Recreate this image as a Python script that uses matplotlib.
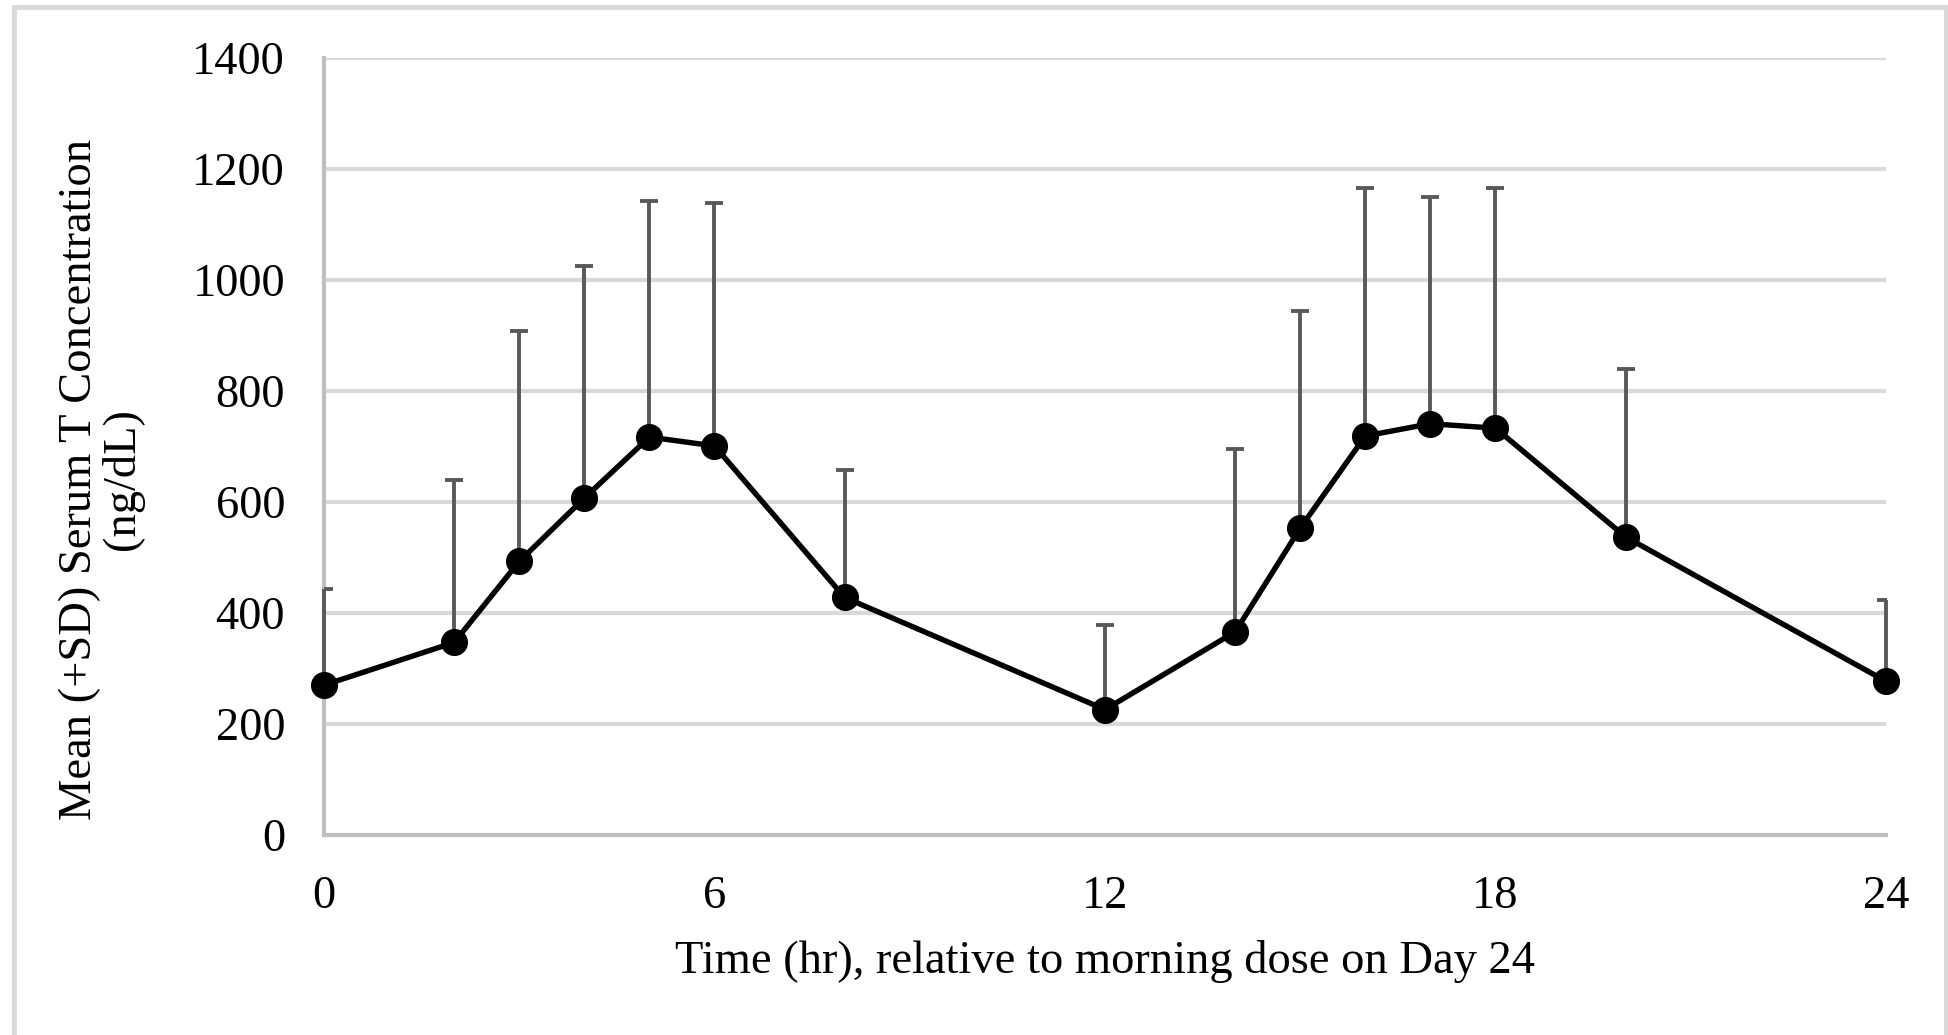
import matplotlib
matplotlib.use("Agg")
from matplotlib import pyplot as plt
from matplotlib.patches import Rectangle
import numpy as np

# values
hours = [0, 2, 3, 4, 5, 6, 8, 12, 14, 15, 16, 17, 18, 20, 24]
mean_t = [270, 347, 493, 607, 717, 701, 428, 226, 366, 553, 719, 741, 733, 537, 277]
sd_t = [173, 293, 416, 419, 425, 437, 230, 152, 329, 391, 447, 409, 433, 303, 147]
x_ticks = [0, 6, 12, 18, 24]
y_ticks = [0, 200, 400, 600, 800, 1000, 1200, 1400]

plt.rcParams['font.family'] = ['Liberation Serif', 'DejaVu Serif']
fs = 33.5

fig = plt.figure(figsize=(19.49, 10.35), dpi=100)
ax = fig.add_axes([324 / 1949, 1 - 835 / 1035, (1886 - 324) / 1949, (835 - 58) / 1035])

# outer frame of the chart
fig.patches.append(Rectangle((14 / 1949, -0.05), (1946 - 14) / 1949, 1.05 - 7 / 1035,
                             transform=fig.transFigure, fill=False,
                             edgecolor='#d9d9d9', linewidth=3.5))

x = np.array(hours)
y = np.array(mean_t)
err = [np.zeros(len(sd_t)), np.array(sd_t)]

eb = ax.errorbar(x, y, yerr=err, fmt='none', ecolor='#595959', elinewidth=2.8,
                 capsize=6.5, capthick=2.8, zorder=3)
eb[2][0].set_clip_on(False)
ax.plot(x, y, color='black', linewidth=3.9, marker='o', markersize=18.5,
        zorder=4, clip_on=False)

ax.set_xlim(0, 24)
ax.set_ylim(0, 1400)
ax.set_xticks(x_ticks)
ax.set_yticks(y_ticks)
ax.tick_params(axis='both', length=0, labelsize=fs, colors='black')
ax.tick_params(axis='y', pad=28)
ax.tick_params(axis='x', pad=29)

ax.grid(axis='y', color='#d9d9d9', linewidth=3, zorder=0)
ax.set_axisbelow(True)
for side in ['top', 'right']:
    ax.spines[side].set_visible(False)
for side in ['left', 'bottom']:
    ax.spines[side].set_color('#bfbfbf')
    ax.spines[side].set_linewidth(3)

ax.set_xlabel('Time (hr), relative to morning dose on Day 24', fontsize=fs, labelpad=16)
fig.text(101 / 1949, 1 - 479 / 1035, 'Mean (+SD) Serum T Concentration\n(ng/dL)',
         rotation=90, fontsize=fs, ha='center', va='center', linespacing=1.0)

fig.savefig('out.png', dpi=100)
